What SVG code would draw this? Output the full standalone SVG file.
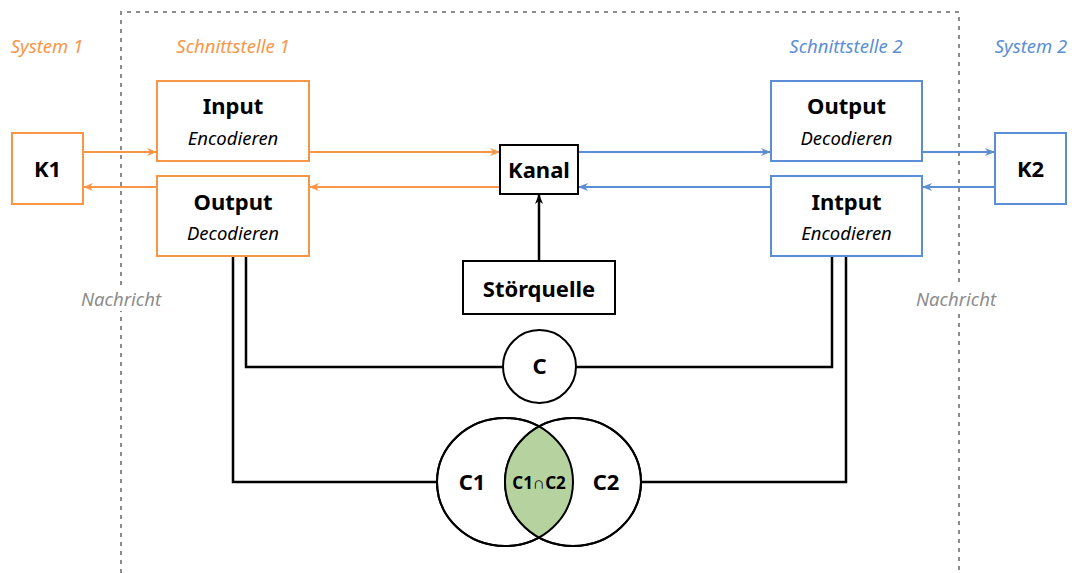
<svg xmlns="http://www.w3.org/2000/svg" width="1072" height="573" viewBox="0 0 1072 573">
  <style>
    .bg { fill: #ffffff; }
    .frame { fill: none; stroke: #8c8c8c; stroke-width: 2; stroke-dasharray: 4 5; }
    .org { fill: #ffffff; stroke: #f79646; stroke-width: 2; }
    .blu { fill: #ffffff; stroke: #5b8ed4; stroke-width: 2; }
    .blk { fill: #ffffff; stroke: #000000; stroke-width: 2; }
    .t { font-family: "Noto Sans", "Open Sans", sans-serif; text-anchor: middle; }
    .title { font-size: 22px; font-weight: bold; fill: #000000; }
    .sub { font-size: 18.5px; font-style: italic; fill: #000000; }
    .lab { font-size: 18.5px; font-style: italic; }
    .lo { fill: #f79646; }
    .lb { fill: #5b8ed4; }
    .lg { fill: #8c8c8c; }
    .co { fill: none; stroke: #f79646; stroke-width: 2; }
    .cb { fill: none; stroke: #5b8ed4; stroke-width: 2; }
    .ck { fill: none; stroke: #000000; stroke-width: 2.5; }
  </style>
  <defs>
    <marker id="ao" viewBox="0 0 10 10" refX="9" refY="5" markerWidth="10" markerHeight="10" markerUnits="userSpaceOnUse" orient="auto">
      <path d="M0,1 L10,5 L0,9 L3,5 Z" fill="#f79646"/>
    </marker>
    <marker id="ab" viewBox="0 0 10 10" refX="9" refY="5" markerWidth="10" markerHeight="10" markerUnits="userSpaceOnUse" orient="auto">
      <path d="M0,1 L10,5 L0,9 L3,5 Z" fill="#5b8ed4"/>
    </marker>
    <marker id="ak" viewBox="0 0 10 10" refX="9" refY="5" markerWidth="10" markerHeight="10" markerUnits="userSpaceOnUse" orient="auto">
      <path d="M0,1 L10,5 L0,9 L3,5 Z" fill="#000000"/>
    </marker>
    <clipPath id="c1clip">
      <ellipse cx="505" cy="482" rx="68" ry="64"/>
    </clipPath>
  </defs>

  <rect class="bg" x="0" y="0" width="1072" height="573"/>

  <!-- interface boundary -->
  <path class="frame" d="M121,573 V12 H959 V573"/>

  <!-- area labels -->
  <text class="t lab lo" x="47" y="53">System 1</text>
  <text class="t lab lo" x="233" y="53">Schnittstelle 1</text>
  <text class="t lab lb" x="846" y="53">Schnittstelle 2</text>
  <text class="t lab lb" x="1031" y="53">System 2</text>
  <rect class="bg" x="78" y="287" width="86" height="24"/>
  <text class="t lab lg" x="121" y="306">Nachricht</text>
  <rect class="bg" x="913" y="287" width="86" height="24"/>
  <text class="t lab lg" x="956" y="306">Nachricht</text>

  <!-- connectors -->
  <g id="connectors">
    <line class="co" x1="83" y1="152" x2="156" y2="152" marker-end="url(#ao)"/>
    <line class="co" x1="157" y1="187" x2="84" y2="187" marker-end="url(#ao)"/>
    <line class="co" x1="309" y1="152" x2="499" y2="152" marker-end="url(#ao)"/>
    <line class="co" x1="500" y1="187" x2="310" y2="187" marker-end="url(#ao)"/>
    <line class="cb" x1="578" y1="152" x2="770" y2="152" marker-end="url(#ab)"/>
    <line class="cb" x1="771" y1="187" x2="579" y2="187" marker-end="url(#ab)"/>
    <line class="cb" x1="922" y1="152" x2="994" y2="152" marker-end="url(#ab)"/>
    <line class="cb" x1="995" y1="187" x2="923" y2="187" marker-end="url(#ab)"/>
    <line class="ck" x1="539" y1="261" x2="539" y2="195" marker-end="url(#ak)"/>
    <polyline class="ck" points="246,257 246,367 503,367"/>
    <polyline class="ck" points="832,257 832,367 576,367"/>
    <polyline class="ck" points="233,257 233,482 437,482"/>
    <polyline class="ck" points="846,257 846,482 641,482"/>
  </g>

  <g id="k1">
    <rect class="org" x="12" y="133" width="71" height="71"/>
    <text class="t title" x="47.5" y="177">K1</text>
  </g>
  <g id="input1">
    <rect class="org" x="157" y="81" width="152" height="80"/>
    <text class="t title" x="233" y="114">Input</text>
    <text class="t sub" x="233" y="145">Encodieren</text>
  </g>
  <g id="output1">
    <rect class="org" x="157" y="176" width="152" height="80"/>
    <text class="t title" x="233" y="210">Output</text>
    <text class="t sub" x="233" y="240">Decodieren</text>
  </g>
  <g id="kanal">
    <rect class="blk" x="500" y="145" width="78" height="49"/>
    <text class="t title" x="539" y="178">Kanal</text>
  </g>
  <g id="stoerquelle">
    <rect class="blk" x="463" y="261" width="152" height="53"/>
    <text class="t title" x="539" y="297">Störquelle</text>
  </g>
  <g id="output2">
    <rect class="blu" x="771" y="81" width="151" height="80"/>
    <text class="t title" x="846.5" y="114">Output</text>
    <text class="t sub" x="846.5" y="145">Decodieren</text>
  </g>
  <g id="input2">
    <rect class="blu" x="771" y="176" width="151" height="80"/>
    <text class="t title" x="846.5" y="210">Intput</text>
    <text class="t sub" x="846.5" y="240">Encodieren</text>
  </g>
  <g id="k2">
    <rect class="blu" x="995" y="133" width="71" height="71"/>
    <text class="t title" x="1030.5" y="177">K2</text>
  </g>

  <g id="c">
    <circle class="blk" cx="539.5" cy="366.5" r="36.5"/>
    <text class="t title" x="539.5" y="374">C</text>
  </g>

  <g id="c1c2">
    <ellipse class="blk" cx="505" cy="482" rx="68" ry="64"/>
    <ellipse class="blk" cx="573" cy="482" rx="68" ry="64"/>
    <ellipse cx="573" cy="482" rx="68" ry="64" fill="#b6d39f" clip-path="url(#c1clip)"/>
    <ellipse cx="505" cy="482" rx="68" ry="64" fill="none" stroke="#000" stroke-width="2"/>
    <ellipse cx="573" cy="482" rx="68" ry="64" fill="none" stroke="#000" stroke-width="2"/>
    <text class="t title" x="472" y="490">C1</text>
    <text class="t title" x="606" y="490">C2</text>
    <text class="t" x="539" y="489" font-size="17" font-weight="bold">C1∩C2</text>
  </g>
</svg>
